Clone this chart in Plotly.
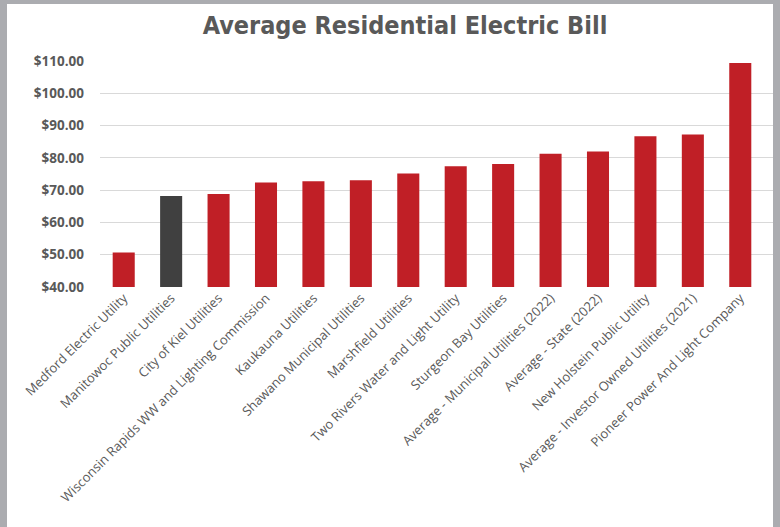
import plotly.graph_objects as go

categories = [
    "Medford Electric Utility",
    "Manitowoc Public Utilities",
    "City of Kiel Utilities",
    "Wisconsin Rapids WW and Lighting Commission",
    "Kaukauna Utilities",
    "Shawano Municipal Utilities",
    "Marshfield Utilities",
    "Two Rivers Water and Light Utility",
    "Sturgeon Bay Utilities",
    "Average - Municipal Utilities (2022)",
    "Average - State (2022)",
    "New Holstein Public Utility",
    "Average - Investor Owned Utilities (2021)",
    "Pioneer Power And Light Company",
]
values = [50.7, 68.2, 68.8, 72.4, 72.8, 73.1, 75.2, 77.4, 78.1, 81.3, 82.0, 86.7, 87.3, 109.4]
highlight = "Manitowoc Public Utilities"

tick_vals = [40, 50, 60, 70, 80, 90, 100, 110]
tick_text = ["$40.00", "$50.00", "$60.00", "$70.00", "$80.00", "$90.00", "$100.00", "$110.00"]

RED = "#C01F26"
DARK = "#404040"
colors = [DARK if c == highlight else RED for c in categories]

W, H = 780, 527
L, R, T, B = 100, 7, 61, 240

fig = go.Figure()
fig.add_trace(go.Bar(
    x=list(range(len(categories))),
    y=values,
    marker=dict(color=colors, line=dict(width=0)),
    width=0.465,
))

pw = W - L - R
ph = H - T - B
def px2x(p):
    return (p - L) / pw
def px2y(p):
    return (H - B - p) / ph

fig.update_layout(
    width=W, height=H,
    margin=dict(l=L, r=R, t=T, b=B, pad=0),
    paper_bgcolor="#ABACB0",
    plot_bgcolor="rgba(0,0,0,0)",
    showlegend=False,
    title=dict(
        text="Average Residential Electric Bill",
        x=405 / W, xanchor="center",
        y=1 - 25 / H, yanchor="middle",
        font=dict(family="DejaVu Sans Condensed, sans-serif",
                  size=25, color="#595959", weight="bold"),
    ),
    shapes=[dict(
        type="rect", xref="paper", yref="paper", layer="below",
        x0=px2x(7), x1=px2x(773), y0=px2y(527), y1=px2y(4),
        fillcolor="white", line=dict(width=0),
    )],
    xaxis=dict(
        tickmode="array",
        tickvals=list(range(len(categories))),
        ticktext=categories,
        tickangle=-45,
        range=[-0.5, 13.69],
        showgrid=False,
        zeroline=False,
        showline=False,
        ticks="",
        tickfont=dict(family="Open Sans, sans-serif", size=13, color="#595959"),
    ),
    yaxis=dict(
        range=[40, 110.05],
        tickmode="array",
        tickvals=tick_vals,
        ticktext=tick_text,
        showgrid=True,
        gridcolor="#D9D9D9",
        gridwidth=1,
        zeroline=False,
        showline=False,
        ticks="",
        ticklabelstandoff=15,
        tickfont=dict(family="Open Sans, sans-serif", size=13.5, color="#595959", weight="bold"),
    ),
)

fig.write_html("out.html")
